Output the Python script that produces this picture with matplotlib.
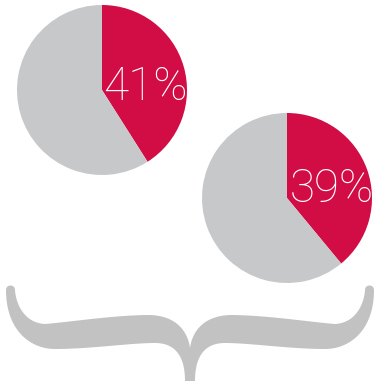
import matplotlib.pyplot as plt
import numpy as np
from matplotlib.patches import Polygon

# data
shares = [41, 39]
labels = ["41%", "39%"]
red = "#d20c45"
grey = "#c7c8ca"
brace_grey = "#c2c2c2"

W, H = 377, 381
fig = plt.figure(figsize=(W / 100, H / 100), dpi=100)

# pie placement in pixels (centre x, centre y, radius)
pies = [(102, 90, 85), (287, 198, 85)]
text_off = [(0.01, -0.12), (0.035, -0.05)]

for (cx, cy, r), val, lab, (tx, ty) in zip(pies, shares, labels, text_off):
    ax = fig.add_axes([(cx - r) / W, (H - cy - r) / H, 2 * r / W, 2 * r / H])
    ax.pie([val, 100 - val], colors=[red, grey], startangle=90,
           counterclock=False, wedgeprops=dict(linewidth=0))
    ax.set_xlim(-1, 1)
    ax.set_ylim(-1, 1)
    ax.set_aspect("equal")
    ax.axis("off")
    ax.text(tx, ty, lab, color="white", ha="left", va="baseline",
            fontsize=33, family="Roboto", fontweight="light")


# brace along the bottom, drawn in pixel coords
def bez(p0, c1, c2, p1, n=30):
    t = np.linspace(0, 1, n)[:, None]
    p0, c1, c2, p1 = map(np.array, (p0, c1, c2, p1))
    return (1 - t) ** 3 * p0 + 3 * (1 - t) ** 2 * t * c1 + 3 * (1 - t) * t ** 2 * c2 + t ** 3 * p1

segs = [
    ((190, 348), (188, 333), (178, 316), (150, 315)),
    ((150, 315), (115, 315), (70, 322), (45, 324)),
    ((45, 324), (25, 323), (16, 305), (15, 290)),
    ((15, 290), (15, 284), (6, 284), (6, 290)),
    ((6, 290), (6, 330), (30, 349), (55, 349)),
    ((55, 349), (90, 349), (130, 343), (155, 343)),
    ((155, 343), (178, 343), (185, 360), (185, 381)),
]
left = np.vstack([bez(*s) for s in segs])
left = np.vstack([left, [[185, 386]]])
right = left[::-1].copy()
right[:, 0] = 380 - right[:, 0]
pts = np.vstack([left, right])

bax = fig.add_axes([0, 0, 1, 1], zorder=-1)
bax.set_xlim(0, W)
bax.set_ylim(H, 0)
bax.axis("off")
bax.add_patch(Polygon(pts, closed=True, facecolor=brace_grey, edgecolor="none"))

fig.savefig("out.png", dpi=100)
